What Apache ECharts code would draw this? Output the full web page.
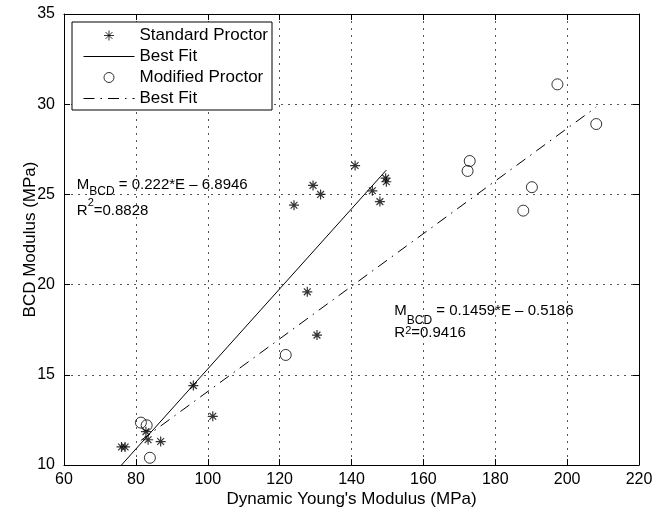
<!DOCTYPE html>
<html>
<head>
<meta charset="utf-8">
<script src="https://cdn.jsdelivr.net/npm/echarts@6/dist/echarts.min.js"></script>
<style>
  html, body { margin: 0; padding: 0; background: #fff; }
  #chart { width: 665px; height: 514px; }
</style>
</head>
<body>
<div id="chart"></div>
<script>
// ---- Data ----
var xTicks = [60, 80, 100, 120, 140, 160, 180, 200, 220];
var yTicks = [10, 15, 20, 25, 30, 35];

var standardX = [76.0, 77.0, 96.0, 101.4, 82.8, 83.4, 86.9, 141.0, 129.3, 131.4, 124.0, 145.8, 147.9, 149.5, 149.7, 127.7, 130.4];
var standardY = [11.0, 11.0, 14.4, 12.7, 11.85, 11.4, 11.3, 26.6, 25.5, 25.0, 24.4, 25.2, 24.6, 25.9, 25.7, 19.6, 17.2];

var modifiedX = [81.4, 83.0, 83.9, 121.7, 197.3, 208.1, 172.9, 172.3, 190.2, 187.8];
var modifiedY = [12.35, 12.2, 10.4, 16.1, 31.1, 28.9, 26.85, 26.3, 25.4, 24.1];

// best-fit line end points
var standardFitX = [76.0, 149.7];
var standardFitY = [10.0, 26.35];
var modifiedFitX = [81.4, 208.1];
var modifiedFitY = [11.36, 29.84];

var seriesNames = ['Standard Proctor', 'Best Fit', 'Modified Proctor', 'Best Fit '];

// annotation anchors (data coordinates of text top-left)
var annot1 = [63.7, 25.94];
var annot2 = [152.05, 18.91];

function zip(xs, ys) { return xs.map(function (x, i) { return [x, ys[i]]; }); }

var FONT = "'Liberation Sans', Arial, Helvetica, sans-serif";
var asterisk = 'path://M5,0L5,10M0,5L10,5M1.6,1.6L8.4,8.4M8.4,1.6L1.6,8.4';

var chart = echarts.init(document.getElementById('chart'), null, { renderer: 'canvas' });

var axisCommon = {
  type: 'value',
  axisLine: { show: true, onZero: false, lineStyle: { color: '#000', width: 1 } },
  axisTick: { show: true, inside: true, length: 6, lineStyle: { color: '#000', width: 1 } },
  splitLine: { show: false }
};

var hiddenSymbol = { color: 'transparent', borderColor: 'transparent', borderWidth: 0, opacity: 0 };

function tok(size, lh, padTop) {
  return { fontSize: size, lineHeight: lh, padding: [padTop, 0, 0, 0], verticalAlign: 'top', color: '#000', fontFamily: FONT };
}

var option = {
  animation: false,
  backgroundColor: '#fff',
  textStyle: { fontFamily: FONT },
  grid: { left: 64, right: 26, top: 14, bottom: 49, containLabel: false },
  xAxis: [
    Object.assign({}, axisCommon, {
      position: 'bottom',
      min: xTicks[0], max: xTicks[xTicks.length - 1], interval: 20,
      name: "Dynamic Young's Modulus (MPa)",
      nameLocation: 'middle', nameGap: 26, nameMoveOverlap: false,
      nameTextStyle: { fontSize: 17, color: '#000', fontFamily: FONT },
      axisLabel: { show: true, fontSize: 16, color: '#000', margin: 7, fontFamily: FONT },
      splitLine: { show: true, lineStyle: { color: '#555', width: 1, type: [2, 5] } }
    }),
    Object.assign({}, axisCommon, {
      position: 'top',
      min: xTicks[0], max: xTicks[xTicks.length - 1], interval: 20,
      axisLabel: { show: false }
    })
  ],
  yAxis: [
    Object.assign({}, axisCommon, {
      position: 'left',
      min: yTicks[0], max: yTicks[yTicks.length - 1], interval: 5,
      name: 'BCD Modulus (MPa)',
      nameLocation: 'middle', nameGap: 25, nameMoveOverlap: false,
      nameTextStyle: { fontSize: 17, color: '#000', fontFamily: FONT },
      axisLabel: { show: true, fontSize: 16, color: '#000', margin: 9, fontFamily: FONT },
      splitLine: { show: true, lineStyle: { color: '#555', width: 1, type: [2, 5] } }
    }),
    Object.assign({}, axisCommon, {
      position: 'right',
      min: yTicks[0], max: yTicks[yTicks.length - 1], interval: 5,
      axisLabel: { show: false }
    })
  ],
  legend: {
    orient: 'vertical',
    left: 72, top: 22,
    padding: [5, 4, 3, 11],
    itemWidth: 51, itemHeight: 10, itemGap: 4,
    backgroundColor: '#fff',
    borderColor: '#000', borderWidth: 1, borderRadius: 0,
    selectedMode: false,
    textStyle: { fontSize: 17, color: '#000', fontFamily: FONT },
    itemStyle: { borderWidth: 1 },
    lineStyle: { width: 1 },
    data: [
      { name: seriesNames[0] },
      { name: seriesNames[1], itemStyle: hiddenSymbol },
      { name: seriesNames[2] },
      { name: seriesNames[3], itemStyle: hiddenSymbol }
    ]
  },
  series: [
    {
      name: seriesNames[0], type: 'scatter',
      data: zip(standardX, standardY),
      symbol: asterisk, symbolSize: 10, symbolKeepAspect: true,
      itemStyle: { color: 'transparent', borderColor: '#000', borderWidth: 1.2 },
      emphasis: { disabled: true }, z: 3
    },
    {
      name: seriesNames[1], type: 'line',
      data: zip(standardFitX, standardFitY),
      symbol: 'none', showSymbol: false,
      lineStyle: { color: '#000', width: 1, type: 'solid' },
      itemStyle: { color: '#000' },
      emphasis: { disabled: true }, z: 2
    },
    {
      name: seriesNames[2], type: 'scatter',
      data: zip(modifiedX, modifiedY),
      symbol: 'circle', symbolSize: 11,
      itemStyle: { color: 'transparent', borderColor: '#000', borderWidth: 1 },
      emphasis: { disabled: true }, z: 3
    },
    {
      name: seriesNames[3], type: 'line',
      data: zip(modifiedFitX, modifiedFitY),
      symbol: 'none', showSymbol: false,
      lineStyle: { color: '#000', width: 1, type: [11, 6, 1.5, 6] },
      itemStyle: { color: '#000' },
      emphasis: { disabled: true }, z: 2
    },
    {
      name: 'annotations', type: 'scatter', silent: true,
      symbolSize: 1, itemStyle: { color: 'transparent', borderWidth: 0 },
      data: [
        {
          value: annot1,
          label: {
            show: true, position: [0, 0], align: 'left', verticalAlign: 'top',
            color: '#000', opacity: 1,
            formatter: '{m|M}{s|BCD}{m| = 0.222*E \u2013 6.8946}\n{r|R}{p|2}{r|=0.8828}',
            rich: {
              m: tok(15, 15, 0),
              s: tok(12, 12, 9),
              r: tok(15, 15, 11),
              p: tok(11, 11, 6)
            }
          }
        },
        {
          value: annot2,
          label: {
            show: true, position: [0, 0], align: 'left', verticalAlign: 'top',
            color: '#000', opacity: 1,
            formatter: '{m|M}{s|BCD}{m| = 0.1459*E \u2013 0.5186}\n{r|R}{p|2}{r|=0.9416}',
            rich: {
              m: tok(15, 15, 0),
              s: tok(12, 12, 10.5),
              r: tok(15, 15, 7),
              p: tok(11, 8, 7)
            }
          }
        }
      ],
      z: 4
    }
  ]
};

chart.setOption(option);
</script>
</body>
</html>
